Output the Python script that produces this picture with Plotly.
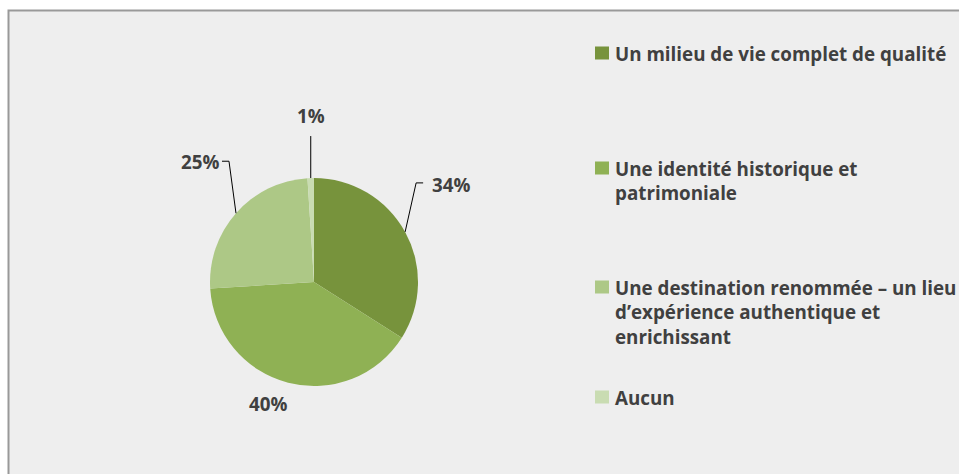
import numpy as np
import plotly.graph_objects as go

W, H = 959, 474

# data
labels = [
    "Un milieu de vie complet de qualité",
    "Une identité historique et<br>patrimoniale",
    "Une destination renommée – un lieu<br>d’expérience authentique et<br>enrichissant",
    "Aucun",
]
values = [34, 40, 25, 1]
colors = ["#77933C", "#8FB154", "#ADC886", "#C9DCB2"]
pct_text = [f"{v}%" for v in values]

TEXT = "#404040"
FONT = "Open Sans"
FS = 18.8

# pie geometry (pixels)
cx, cy, r = 314, 282, 104


def px(x):
    return x / W


def py(y):
    return 1 - y / H


fig = go.Figure()

fig.add_trace(go.Pie(
    labels=labels,
    values=values,
    sort=False,
    direction="clockwise",
    rotation=0,
    marker=dict(colors=colors, line=dict(width=0)),
    textinfo="none",
    hoverinfo="label+percent",
    showlegend=False,
    domain=dict(x=[px(cx - r), px(cx + r)], y=[py(cy + r), py(cy - r)]),
))

# chart area border
fig.add_shape(type="rect", xref="paper", yref="paper",
              x0=px(8.5), x1=px(W + 20), y0=py(H + 20), y1=py(10.5),
              fillcolor="#EEEEEE", line=dict(color="#999999", width=2),
              layer="below")

# label placement: elbow / end of leader line relative to slice edge, and label offset
label_style = [
    dict(elbow=(11, -49), end=(18, -49), text=(46, -47)),
    dict(elbow=None, end=None, text=(-20, 21)),
    dict(elbow=(-7, -52), end=(-14, -52), text=(-36, -51)),
    dict(elbow=None, end=(0, -42), text=(0, -62)),
]

total = sum(values)
cum = np.cumsum([0] + values)
for i, v in enumerate(values):
    mid = (cum[i] + v / 2) / total * 2 * np.pi
    ex = cx + r * np.sin(mid)
    ey = cy - r * np.cos(mid)
    st = label_style[i]
    pts = [(ex, ey)]
    if st["elbow"] is not None:
        pts.append((ex + st["elbow"][0], ey + st["elbow"][1]))
    if st["end"] is not None:
        pts.append((ex + st["end"][0], ey + st["end"][1]))
    if len(pts) > 1:
        path = "M " + " L ".join(f"{px(a):.5f},{py(b):.5f}" for a, b in pts)
        fig.add_shape(type="path", xref="paper", yref="paper", path=path,
                      line=dict(color="#000000", width=1))
    fig.add_annotation(x=px(ex + st["text"][0]), y=py(ey + st["text"][1]),
                       xref="paper", yref="paper", text=f"<b>{pct_text[i]}</b>",
                       showarrow=False, xanchor="center", yanchor="middle",
                       font=dict(family=FONT, size=FS, color=TEXT))

# legend built from annotations
legend_y = [53, 168, 287, 397]
for i, lab in enumerate(labels):
    y0 = legend_y[i]
    fig.add_shape(type="rect", xref="paper", yref="paper",
                  x0=px(595), x1=px(609), y0=py(y0 + 6.5), y1=py(y0 - 6.5),
                  fillcolor=colors[i], line=dict(width=0))
    fig.add_annotation(x=px(613), y=py(y0 - 14), xref="paper", yref="paper",
                       text=f"<b>{lab}</b>", showarrow=False,
                       xanchor="left", yanchor="top", align="left",
                       font=dict(family=FONT, size=FS, color=TEXT))

fig.update_layout(
    width=W, height=H,
    margin=dict(l=0, r=0, t=0, b=0),
    paper_bgcolor="#FFFFFF",
    plot_bgcolor="#FFFFFF",
)

fig.write_html("out.html", config={"displayModeBar": False},
               post_script="document.body.style.margin='0';"
                           "document.body.style.overflow='hidden';")
